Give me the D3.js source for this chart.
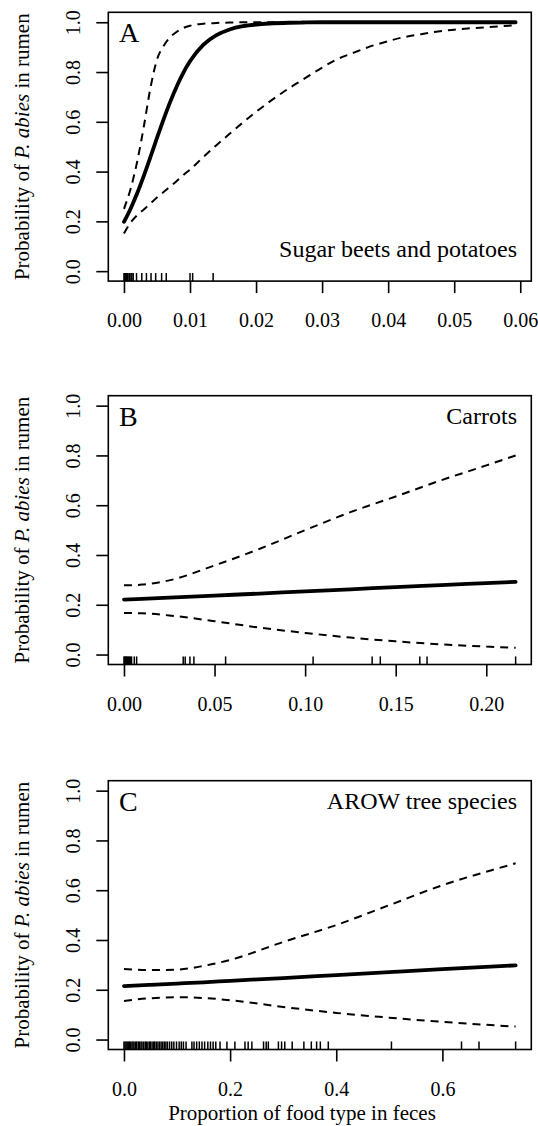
<!DOCTYPE html>
<html><head><meta charset="utf-8">
<script src="https://cdn.jsdelivr.net/npm/d3@7"></script>
<style>body{margin:0;background:#fff}svg{display:block}</style>
</head><body>
<svg id="chart" width="538" height="1126"></svg>
<script>
// ---------- shared ----------
const yTicks = [0, 0.2, 0.4, 0.6, 0.8, 1.0];
const yTickLabels = ["0.0", "0.2", "0.4", "0.6", "0.8", "1.0"];
const yTitlePre = "Probability of ";
const yTitleItalic = "P. abies";
const yTitlePost = " in rumen";
const xTitle = "Proportion of food type in feces";

// ---------- Panel A : Sugar beets and potatoes ----------
const aLetter = "A";
const aName = "Sugar beets and potatoes";
const aX     = [0, 0.001, 0.002, 0.003, 0.004, 0.005, 0.006, 0.007, 0.008, 0.009, 0.010, 0.012, 0.014, 0.016, 0.018, 0.020, 0.022, 0.025, 0.027, 0.030, 0.032, 0.035, 0.037, 0.040, 0.042, 0.045, 0.047, 0.050, 0.052, 0.055, 0.0593];
const aFit   = [0.198, 0.251, 0.313, 0.383, 0.458, 0.535, 0.610, 0.680, 0.743, 0.798, 0.843, 0.909, 0.948, 0.971, 0.984, 0.991, 0.995, 0.998, 0.999, 1.0, 1.0, 1.0, 1.0, 1.0, 1.0, 1.0, 1.0, 1.0, 1.0, 1.0, 1.0];
const aUpper = [0.25, 0.33, 0.44, 0.58, 0.735, 0.85, 0.905, 0.94, 0.962, 0.977, 0.986, 0.994, 0.997, 0.999, 1.0, 1.0, 1.0, 1.0, 1.0, 1.0, 1.0, 1.0, 1.0, 1.0, 1.0, 1.0, 1.0, 1.0, 1.0, 1.0, 1.0];
const aLower = [0.151, 0.195, 0.225, 0.248, 0.272, 0.296, 0.318, 0.340, 0.362, 0.386, 0.408, 0.458, 0.506, 0.552, 0.597, 0.640, 0.680, 0.735, 0.768, 0.818, 0.848, 0.880, 0.900, 0.924, 0.938, 0.952, 0.961, 0.970, 0.975, 0.980, 0.988];
const aRug   = [0, 0.0001, 0.0002, 0.0003, 0.0004, 0.0005, 0.0006, 0.0008, 0.0009, 0.0011, 0.0012, 0.0014, 0.0019, 0.0027, 0.0034, 0.0041, 0.0048, 0.0057, 0.0064, 0.0100, 0.0104, 0.0135];
const aTicks = [0, 0.01, 0.02, 0.03, 0.04, 0.05, 0.06];
const aTickLabels = ["0.00", "0.01", "0.02", "0.03", "0.04", "0.05", "0.06"];

// ---------- Panel B : Carrots ----------
const bLetter = "B";
const bName = "Carrots";
const bX     = [0, 0.01, 0.025, 0.05, 0.075, 0.10, 0.125, 0.15, 0.175, 0.20, 0.2162];
const bFit   = [0.221, 0.224, 0.229, 0.237, 0.245, 0.254, 0.262, 0.271, 0.279, 0.287, 0.292];
const bUpper = [0.278, 0.281, 0.298, 0.358, 0.425, 0.500, 0.572, 0.635, 0.700, 0.760, 0.800];
const bLower = [0.167, 0.166, 0.157, 0.134, 0.108, 0.087, 0.068, 0.053, 0.041, 0.032, 0.027];
const bRug   = [0, 0.0004, 0.0008, 0.0012, 0.0016, 0.002, 0.0025, 0.003, 0.0036, 0.0042, 0.0057, 0.0070, 0.0327, 0.0338, 0.0364, 0.0386, 0.0561, 0.1044, 0.1370, 0.1415, 0.1633, 0.1673, 0.2162];
const bTicks = [0, 0.05, 0.10, 0.15, 0.20];
const bTickLabels = ["0.00", "0.05", "0.10", "0.15", "0.20"];

// ---------- Panel C : AROW tree species ----------
const cLetter = "C";
const cName = "AROW tree species";
const cX     = [0, 0.05, 0.1, 0.15, 0.2, 0.3, 0.4, 0.5, 0.6, 0.7, 0.738];
const cFit   = [0.215, 0.220, 0.225, 0.230, 0.236, 0.247, 0.259, 0.271, 0.283, 0.294, 0.298];
const cUpper = [0.283, 0.279, 0.281, 0.296, 0.320, 0.392, 0.460, 0.540, 0.620, 0.685, 0.708];
const cLower = [0.155, 0.166, 0.170, 0.167, 0.158, 0.131, 0.107, 0.088, 0.071, 0.057, 0.052];
const cRug   = [0, 0.002, 0.004, 0.006, 0.008, 0.010, 0.012, 0.015, 0.017, 0.019, 0.022, 0.024, 0.027, 0.029, 0.032, 0.034, 0.037, 0.040, 0.042, 0.045, 0.048, 0.050, 0.053, 0.056, 0.058, 0.061, 0.064, 0.067, 0.070, 0.073, 0.076, 0.079, 0.082,
                0.086, 0.090, 0.094, 0.099, 0.104, 0.108, 0.112, 0.117, 0.128, 0.132, 0.137, 0.142, 0.147, 0.152, 0.158, 0.163, 0.168, 0.173, 0.181, 0.194,
                0.209, 0.228, 0.234, 0.241, 0.263, 0.268, 0.272, 0.291, 0.297, 0.303, 0.317, 0.339, 0.353, 0.363, 0.370, 0.385, 0.504, 0.636, 0.669, 0.738];
const cTicks = [0, 0.2, 0.4, 0.6];
const cTickLabels = ["0.0", "0.2", "0.4", "0.6"];

// ---------- layout ----------
const FONT = "'Liberation Serif','Times New Roman',Times,serif";
const boxLeft = 108.3, boxRight = 531.3, boxH = 268.8;
const panels = [
  {top: 12.3,  letter: aLetter, name: aName, nameAtTop: false, x: aX, fit: aFit, upper: aUpper, lower: aLower, rug: aRug, ticks: aTicks, labels: aTickLabels},
  {top: 395.7, letter: bLetter, name: bName, nameAtTop: true,  x: bX, fit: bFit, upper: bUpper, lower: bLower, rug: bRug, ticks: bTicks, labels: bTickLabels},
  {top: 780.7, letter: cLetter, name: cName, nameAtTop: true,  x: cX, fit: cFit, upper: cUpper, lower: cLower, rug: cRug, ticks: cTicks, labels: cTickLabels}
];

const svg = d3.select("#chart");

panels.forEach((p, pi) => {
  const xmax = d3.max(p.x);
  const pad = xmax * 0.04;
  const x = d3.scaleLinear().domain([-pad, xmax + pad]).range([boxLeft, boxRight]);
  const y = d3.scaleLinear().domain([-0.04, 1.04]).range([p.top + boxH, p.top]);
  const bottom = p.top + boxH;
  const g = svg.append("g");

  // curves
  const pts = arr => p.x.map((v, i) => [v, arr[i]]);
  const line = d3.line().x(d => x(d[0])).y(d => y(d[1])).curve(d3.curveMonotoneX);
  g.append("path").attr("d", line(pts(p.upper))).attr("fill", "none").attr("stroke", "#000")
    .attr("stroke-width", 2).attr("stroke-dasharray", "8,6");
  g.append("path").attr("d", line(pts(p.lower))).attr("fill", "none").attr("stroke", "#000")
    .attr("stroke-width", 2).attr("stroke-dasharray", "8,6");
  g.append("path").attr("d", line(pts(p.fit))).attr("fill", "none").attr("stroke", "#000")
    .attr("stroke-width", 3.8).attr("stroke-linecap", "round");

  // rug
  g.selectAll("line.rug").data(p.rug).enter().append("line").attr("class", "rug")
    .attr("x1", d => x(d)).attr("x2", d => x(d))
    .attr("y1", bottom).attr("y2", bottom - boxH * 0.03)
    .attr("stroke", "#000").attr("stroke-width", 1.5);

  // box
  g.append("rect").attr("x", boxLeft).attr("y", p.top).attr("width", boxRight - boxLeft).attr("height", boxH)
    .attr("fill", "none").attr("stroke", "#000").attr("stroke-width", 1.6);

  // x axis
  const xa = g.append("g").attr("transform", `translate(0,${bottom})`)
    .call(d3.axisBottom(x).tickValues(p.ticks).tickFormat((d, i) => p.labels[i]).tickSize(12).tickSizeOuter(0));
  xa.select(".domain").remove();
  xa.selectAll(".tick line").attr("stroke-width", 1.6);
  xa.selectAll(".tick text").attr("y", 46).attr("dy", null)
    .attr("font-family", FONT).attr("font-size", 20).attr("fill", "#000");

  // y axis
  const ya = g.append("g").attr("transform", `translate(${boxLeft},0)`)
    .call(d3.axisLeft(y).tickValues(yTicks).tickFormat((d, i) => yTickLabels[i]).tickSize(12).tickSizeOuter(0));
  ya.select(".domain").remove();
  ya.selectAll(".tick line").attr("stroke-width", 1.6);
  ya.selectAll(".tick text").attr("x", null).attr("dy", null)
    .attr("transform", "translate(-28,0) rotate(-90)").attr("text-anchor", "middle")
    .attr("font-family", FONT).attr("font-size", 20).attr("fill", "#000");

  // y title
  const yc = p.top + boxH / 2;
  const yt = g.append("text").attr("transform", `translate(28.7,${yc}) rotate(-90)`)
    .attr("text-anchor", "middle").attr("font-family", FONT).attr("font-size", 21).attr("fill", "#000");
  yt.append("tspan").text(yTitlePre);
  yt.append("tspan").attr("font-style", "italic").text(yTitleItalic);
  yt.append("tspan").text(yTitlePost);

  // panel letter
  g.append("text").attr("x", 119).attr("y", p.top + 30).attr("font-family", FONT)
    .attr("font-size", 28).attr("fill", "#000").text(p.letter);

  // panel name
  g.append("text").attr("x", 517).attr("y", p.nameAtTop ? p.top + 28.5 : bottom - 23.7)
    .attr("text-anchor", "end").attr("font-family", FONT).attr("font-size", 24).attr("fill", "#000").text(p.name);

  if (pi === panels.length - 1) {
    g.append("text").attr("x", 302).attr("y", bottom + 70.7).attr("text-anchor", "middle")
      .attr("font-family", FONT).attr("font-size", 21).attr("fill", "#000").text(xTitle);
  }
});
</script>
</body></html>
